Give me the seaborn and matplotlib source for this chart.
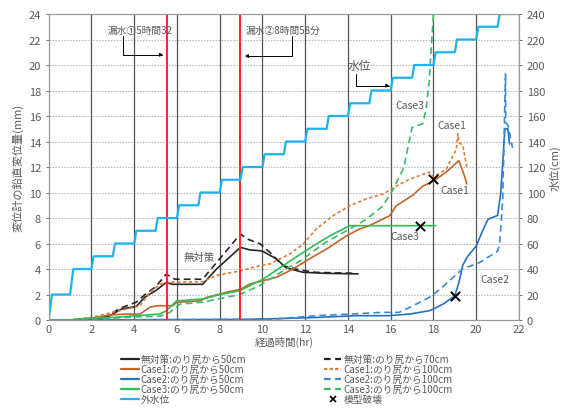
import matplotlib
matplotlib.use("Agg")
import matplotlib.pyplot as plt
from matplotlib.lines import Line2D
import seaborn as sns
import pandas as pd

# ---------------- data ----------------
# 無対策 (no countermeasure)
t_none50 = [0, 1, 2, 2.4, 2.86, 3.4, 4.1, 4.5, 5.0, 5.5, 5.8, 7.2, 7.85, 8.97, 9.4, 9.8, 10.0, 10.65, 11.1, 11.9, 13.0, 14.47]
v_none50 = [0, 0, 0.03, 0.1, 0.34, 0.86, 1.07, 1.8, 2.3, 2.95, 2.8, 2.8, 4.0, 5.7, 5.5, 5.45, 5.4, 4.8, 4.1, 3.74, 3.66, 3.62]
t_none70 = [0, 1, 2, 2.4, 2.86, 3.3, 4.1, 4.5, 5.0, 5.5, 5.9, 7.2, 7.85, 8.97, 9.3, 9.9, 10.35, 10.96, 11.75, 12.5, 14.4]
v_none70 = [0, 0, 0.03, 0.12, 0.4, 0.9, 1.4, 2.0, 2.6, 3.6, 3.2, 3.2, 4.5, 6.75, 6.35, 5.96, 5.3, 4.26, 3.92, 3.74, 3.66]

# Case1
t_c1_50 = [0, 1, 2, 2.86, 3.64, 4.27, 4.73, 5.05, 5.8, 5.98, 7.07, 7.4, 8.3, 9.0, 9.4, 10.65, 11.43, 12.2, 13.0, 13.93, 14.55, 15.0, 15.95, 16.26, 17.04, 17.5, 18.0, 18.6, 19.19, 19.45, 19.56]
v_c1_50 = [0, 0, 0.15, 0.4, 0.47, 0.47, 1.0, 1.12, 1.12, 1.39, 1.5, 1.78, 2.17, 2.43, 2.82, 3.35, 4.0, 4.8, 5.57, 6.6, 7.14, 7.4, 8.18, 8.96, 9.8, 10.5, 10.9, 11.6, 12.5, 11.3, 10.67]
t_c1_100 = [0, 1, 2, 2.86, 3.64, 4.27, 4.73, 5.2, 5.67, 7.2, 7.85, 9.0, 9.87, 10.35, 11.28, 11.9, 12.52, 13.3, 14.08, 14.86, 15.64, 16.26, 16.9, 17.8, 18.0, 18.6, 19.07, 19.14, 19.2, 19.37, 19.56]
v_c1_100 = [0, 0, 0.2, 0.55, 0.86, 1.1, 2.17, 2.8, 2.96, 3.0, 3.5, 3.87, 4.26, 4.4, 5.18, 5.96, 7.14, 8.18, 8.96, 9.5, 9.88, 10.5, 11.06, 11.6, 11.2, 11.84, 13.4, 14.6, 13.9, 13.7, 12.0]

# Case2
t_c2_50 = [0, 9.4, 12.5, 14.4, 15.9, 16.9, 17.8, 18.0, 18.5, 19.0, 19.2, 19.37, 19.6, 20.0, 20.3, 20.55, 21.0, 21.15, 21.33, 21.35, 21.48, 21.56]
v_c2_50 = [0, 0.05, 0.2, 0.34, 0.34, 0.47, 0.73, 0.86, 1.3, 1.9, 3.0, 4.3, 5.0, 5.8, 7.0, 7.9, 8.2, 10.0, 14.7, 15.0, 15.0, 13.8]
t_c2_100 = [0, 9.4, 10.0, 10.4, 12.5, 14.1, 15.6, 16.4, 17.2, 17.8, 18.3, 19.35, 20.15, 21.0, 21.1, 21.24, 21.37, 21.38, 21.5, 21.7]
v_c2_100 = [0, 0.05, 0.12, 0.05, 0.34, 0.47, 0.6, 0.6, 1.25, 1.78, 2.4, 4.0, 4.5, 5.4, 6.0, 9.5, 19.3, 15.5, 15.2, 13.5]

# Case3
t_c3_50 = [0, 1, 1.5, 3.0, 4.1, 5.2, 5.5, 5.98, 7.22, 8.0, 8.94, 9.56, 10.03, 10.5, 11.43, 11.9, 12.52, 13.15, 13.93, 14.08, 18.1]
v_c3_50 = [0, 0, 0.1, 0.2, 0.34, 0.47, 0.73, 1.5, 1.65, 2.0, 2.3, 2.82, 3.2, 3.74, 4.78, 5.3, 5.96, 6.6, 7.27, 7.4, 7.4]
t_c3_100 = [0, 1, 1.5, 3.0, 4.1, 5.2, 5.67, 6.14, 7.2, 8.94, 9.87, 10.35, 11.1, 11.9, 12.83, 13.93, 14.86, 15.64, 16.1, 16.6, 16.8, 17.0, 17.5, 17.65, 17.8, 17.9, 18.0]
v_c3_100 = [0, 0, 0.08, 0.15, 0.25, 0.3, 0.6, 1.25, 1.4, 2.0, 2.7, 3.2, 4.0, 4.78, 5.96, 7.0, 7.9, 8.96, 10.2, 11.9, 13.5, 15.1, 15.4, 16.5, 18.7, 21.5, 24.0]

# 外水位 (outer water level, cm)
t_water = [0, 0.15, 1.0, 1.15, 2.0, 2.1, 3.0, 3.1, 4.0, 4.1, 5.0, 5.1, 6.0, 6.1, 7.0, 7.1, 8.0, 8.1,
           8.97, 9.07, 10.0, 10.1, 11.0, 11.1, 12.0, 12.1, 13.0, 13.1, 14.0, 14.1, 15.0, 15.1, 16.0, 16.1,
           17.0, 17.1, 18.0, 18.1, 19.0, 19.1, 20.0, 20.1, 21.0, 21.1, 22.0]
v_water = [0, 20, 20, 40, 40, 50, 50, 60, 60, 70, 70, 80, 80, 90, 90, 100, 100, 110,
           110, 120, 120, 130, 130, 140, 140, 150, 150, 160, 160, 170, 170, 180, 180, 190,
           190, 200, 200, 210, 210, 220, 220, 230, 230, 240, 240]

# 模型破壊 (model failure) points
t_fail = [18.0, 17.35, 19.0]
v_fail = [11.05, 7.35, 1.9]

# 漏水 times (hr)
leak_times = [5.53, 8.97]

x_ticks = list(range(0, 23, 2))
y_ticks = list(range(0, 25, 2))
y2_ticks = list(range(0, 241, 20))

# ---------------- style ----------------
sns.set_theme(style="white")
plt.rcParams['font.family'] = ['Noto Sans CJK JP', 'DejaVu Sans']
plt.rcParams['axes.unicode_minus'] = False

GRAY = "#595959"
BLACK = "#262626"
OR1 = "#c5652a"
OR2 = "#dd7d34"
BL1 = "#2571c2"
BL2 = "#3a88d4"
GR1 = "#2bbf55"
GR2 = "#3cb96a"
WATER = "#1db3f0"

fig = plt.figure(figsize=(5.63, 4.10), dpi=100)
ax = fig.add_axes([0.0865, 0.217, 0.8353, 0.7464])
ax2 = ax.twinx()

ax.set_xlim(0, 22)
ax.set_ylim(0, 24)
ax2.set_ylim(0, 240)

# grid
for y in y_ticks[1:]:
    ax.axhline(y, color="#b0b0b0", lw=0.7, ls=(0, (1.5, 1.5)), zorder=0)
for x in x_ticks[1:]:
    ax.axvline(x, color="#555555", lw=0.9, zorder=1)

series = [
    (t_none50, v_none50, BLACK, "-", 1.2, "無対策:のり尻から50cm"),
    (t_none70, v_none70, BLACK, (0, (4, 2.5)), 1.2, "無対策:のり尻から70cm"),
    (t_c1_50, v_c1_50, OR1, "-", 1.2, "Case1:のり尻から50cm"),
    (t_c1_100, v_c1_100, OR2, (0, (2, 1.5)), 1.2, "Case1:のり尻から100cm"),
    (t_c2_50, v_c2_50, BL1, "-", 1.2, "Case2:のり尻から50cm"),
    (t_c2_100, v_c2_100, BL2, (0, (4, 2.5)), 1.2, "Case2:のり尻から100cm"),
    (t_c3_50, v_c3_50, GR1, "-", 1.2, "Case3:のり尻から50cm"),
    (t_c3_100, v_c3_100, GR2, (0, (4, 2.5)), 1.2, "Case3:のり尻から100cm"),
]
for t, v, c, ls, lw, lab in series:
    df = pd.DataFrame({"t": t, "v": v})
    sns.lineplot(data=df, x="t", y="v", ax=ax, color=c, lw=lw, sort=False,
                 estimator=None, legend=False, zorder=3)
    ax.lines[-1].set_linestyle(ls)

df_w = pd.DataFrame({"t": t_water, "v": v_water})
sns.lineplot(data=df_w, x="t", y="v", ax=ax2, color=WATER, lw=1.6, sort=False,
             estimator=None, legend=False, zorder=2)

df_f = pd.DataFrame({"t": t_fail, "v": v_fail})
sns.scatterplot(data=df_f, x="t", y="v", ax=ax, marker="x", color="black", s=45,
                linewidth=1.4, legend=False, zorder=5)

for lt in leak_times:
    ax.axvline(lt, color="#ff2626", lw=1.4, zorder=4)

# ticks & labels
ax.set_xticks(x_ticks)
ax.set_yticks(y_ticks)
ax2.set_yticks(y2_ticks)
ax.tick_params(axis="both", labelsize=8, colors=GRAY, length=2.5, width=0.6, pad=3)
ax.tick_params(axis="x", length=0)
ax2.tick_params(axis="y", labelsize=8, colors=GRAY, length=2.5, width=0.6, pad=3)
ax.set_xlabel("経過時間(hr)", fontsize=7.5, color=GRAY, labelpad=1)
ax.set_ylabel("変位計の鉛直変位量(mm)", fontsize=8, color=GRAY, labelpad=4)
ax2.set_ylabel("水位(cm)", fontsize=8, color=GRAY, labelpad=3)
for a in (ax, ax2):
    for s in a.spines.values():
        s.set_color("#9a9a9a")
        s.set_linewidth(0.8)

# annotations
arrow_kw = dict(arrowstyle="-|>", connectionstyle="angle,angleA=90,angleB=0,rad=0",
                shrinkA=0, shrinkB=0, lw=0.7, color="black", mutation_scale=5)
ax.text(2.75, 22.75, "漏水①5時間32", fontsize=7, color=GRAY, va="center", ha="left", zorder=6)
ax.annotate("", xy=(5.36, 20.8), xytext=(3.47, 22.3), arrowprops=arrow_kw, zorder=6)
ax.text(9.2, 22.75, "漏水②8時間58分", fontsize=7, color=GRAY, va="center", ha="left", zorder=6)
ax.annotate("", xy=(9.17, 20.7), xytext=(11.4, 22.3), arrowprops=arrow_kw, zorder=6)
ax.text(14.0, 20.0, "水位", fontsize=8.5, color=GRAY, va="center", ha="left", zorder=6)
ax.annotate("", xy=(15.95, 18.38), xytext=(14.36, 19.3), arrowprops=arrow_kw, zorder=6)

for tx, ty, s in [(6.3, 4.95, "無対策"), (16.2, 16.9, "Case3"), (18.2, 15.3, "Case1"),
                  (18.3, 10.2, "Case1"), (16.0, 6.6, "Case3"), (20.2, 3.2, "Case2")]:
    ax.text(tx, ty, s, fontsize=7.5, color=GRAY, va="center", ha="left", zorder=6)

# legend
handles = [
    Line2D([], [], color=BLACK, lw=1.6, ls="-"),
    Line2D([], [], color=OR1, lw=1.6, ls="-"),
    Line2D([], [], color=BL1, lw=1.6, ls="-"),
    Line2D([], [], color=GR1, lw=1.6, ls="-"),
    Line2D([], [], color=WATER, lw=1.6, ls="-"),
    Line2D([], [], color=BLACK, lw=1.6, ls=(0, (3, 2))),
    Line2D([], [], color=OR2, lw=1.6, ls=(0, (1.5, 1))),
    Line2D([], [], color=BL2, lw=1.6, ls=(0, (3, 2))),
    Line2D([], [], color=GR2, lw=1.6, ls=(0, (3, 2))),
    Line2D([], [], color="black", lw=0, marker="x", markersize=5, markeredgewidth=1.2),
]
labels = ["無対策:のり尻から50cm", "Case1:のり尻から50cm", "Case2:のり尻から50cm",
          "Case3:のり尻から50cm", "外水位",
          "無対策:のり尻から70cm", "Case1:のり尻から100cm", "Case2:のり尻から100cm",
          "Case3:のり尻から100cm", "模型破壊"]
leg = fig.legend(handles, labels, ncol=2, loc="upper left", bbox_to_anchor=(0.215, 0.134),
                 frameon=False, fontsize=7, handlelength=1.8, handletextpad=0.2,
                 labelspacing=0.0, columnspacing=8.0, borderpad=0, borderaxespad=0)
for txt in leg.get_texts():
    txt.set_color(GRAY)

fig.savefig("out.png", dpi=100)
